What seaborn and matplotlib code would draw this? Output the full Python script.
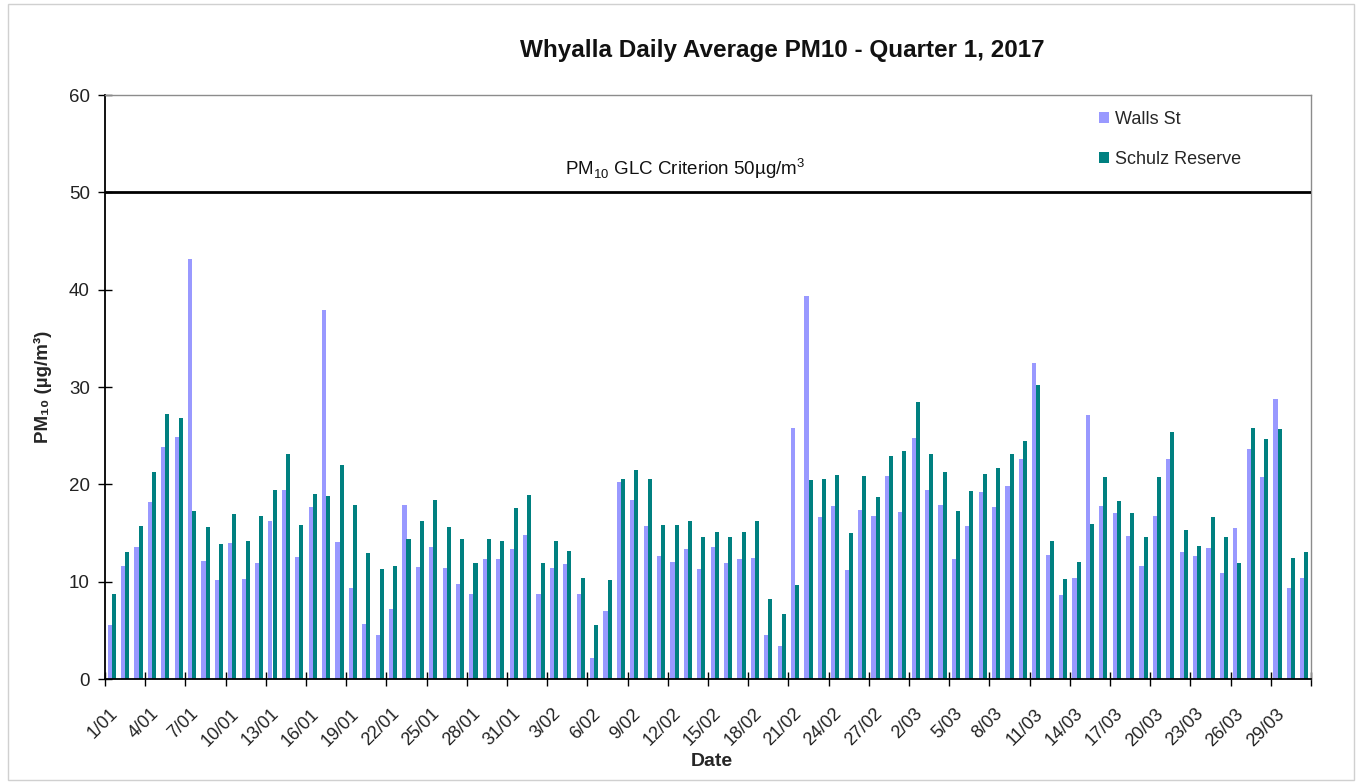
import numpy as np
import pandas as pd
import matplotlib
matplotlib.use("Agg")
import matplotlib.pyplot as plt
import matplotlib.transforms as mtransforms
from matplotlib.patches import Patch, Rectangle
import seaborn as sns

# Daily average PM10 (µg/m³), 1 January – 31 March 2017
walls_st = [
    5.5, 11.6, 13.6, 18.2, 23.8, 24.9, 43.1, 12.1, 10.2, 14.0,
    10.3, 11.9, 16.2, 19.4, 12.5, 17.7, 37.9, 14.1, 9.3, 5.7,
    4.5, 7.2, 17.9, 11.5, 13.6, 11.4, 9.8, 8.7, 12.3, 12.3,
    13.4, 14.8, 8.7, 11.4, 11.8, 8.7, 2.2, 7.0, 20.2, 18.4,
    15.7, 12.6, 12.0, 13.4, 11.3, 13.6, 11.9, 12.3, 12.4, 4.5,
    3.4, 25.8, 39.4, 16.6, 17.8, 11.2, 17.4, 16.7, 20.9, 17.2,
    24.8, 19.4, 17.9, 12.3, 15.7, 19.2, 17.7, 19.8, 22.6, 32.5,
    12.7, 8.6, 10.4, 27.1, 17.8, 17.1, 14.7, 11.6, 16.7, 22.6,
    13.0, 12.6, 13.5, 10.9, 15.5, 23.6, 20.8, 28.8, 9.3, 10.4,
]
schulz_reserve = [
    8.7, 13.0, 15.7, 21.3, 27.2, 26.8, 17.3, 15.6, 13.9, 17.0,
    14.2, 16.7, 19.4, 23.1, 15.8, 19.0, 18.8, 22.0, 17.9, 12.9,
    11.3, 11.6, 14.4, 16.2, 18.4, 15.6, 14.4, 11.9, 14.4, 14.2,
    17.6, 18.9, 11.9, 14.2, 13.1, 10.4, 5.5, 10.2, 20.5, 21.5,
    20.5, 15.8, 15.8, 16.2, 14.6, 15.1, 14.6, 15.1, 16.2, 8.2,
    6.7, 9.7, 20.4, 20.5, 21.0, 15.0, 20.9, 18.7, 22.9, 23.4,
    28.5, 23.1, 21.3, 17.3, 19.3, 21.1, 21.7, 23.1, 24.5, 30.2,
    14.2, 10.3, 12.0, 15.9, 20.8, 18.3, 17.1, 14.6, 20.8, 25.4,
    15.3, 13.7, 16.6, 14.6, 11.9, 25.8, 24.7, 25.7, 12.4, 13.0,
]
sites = ["Walls St", "Schulz Reserve"]
site_colors = ["#9999FF", "#008080"]
criterion = 50

dates = pd.date_range("2017-01-01", "2017-03-31", freq="D")
date_labels = [f"{d.day}/{d.month:02d}" for d in dates]
n_days = len(date_labels)

df = pd.DataFrame({
    "Date": date_labels * 2,
    "PM10": walls_st + schulz_reserve,
    "Site": [sites[0]] * n_days + [sites[1]] * n_days,
})

sns.set_theme(style="white")
plt.rcParams["font.family"] = ["Liberation Sans", "DejaVu Sans"]
plt.rcParams["mathtext.fontset"] = "custom"
plt.rcParams["mathtext.rm"] = "Liberation Sans"

W, H = 1360, 784
fig = plt.figure(figsize=(W / 100, H / 100), dpi=100)
fig.patch.set_facecolor("white")

# chart-area border
fig.add_artist(Rectangle((8 / W, 4 / H), (1354 - 8) / W, (780 - 4) / H,
                         transform=fig.transFigure, fill=False,
                         edgecolor="#d0d0d0", linewidth=1))

left, right, top, bottom = 105, 1311, 95, 679
ax = fig.add_axes([left / W, 1 - bottom / H, (right - left) / W, (bottom - top) / H])

sns.barplot(data=df, x="Date", y="PM10", hue="Site", order=date_labels,
            hue_order=sites, palette=site_colors, width=0.6, gap=0,
            dodge=True, saturation=1, errorbar=None, legend=False,
            linewidth=0, ax=ax)

ax.set_xlim(-0.5, n_days - 0.5)
ax.set_ylim(0, 60)

# criterion line and its caption
ax.axhline(criterion, color="black", linewidth=2, zorder=3)
caption_tf = mtransforms.blended_transform_factory(ax.transAxes, ax.transData)
ax.text(0.481, criterion + 2.4, r"PM$_{10}$ GLC Criterion 50µg/m$^{3}$",
        transform=caption_tf, fontsize=13.5, ha="center", va="center",
        color="#111111")

# axes frame
for s in ["left", "bottom"]:
    ax.spines[s].set_color("black")
    ax.spines[s].set_linewidth(1.3)
for s in ["top", "right"]:
    ax.spines[s].set_color("#8c8c8c")
    ax.spines[s].set_linewidth(1)

# y axis
ax.set_yticks(range(0, 61, 10))
ax.tick_params(axis="y", direction="inout", length=10, width=1, color="black",
               labelsize=13.5, labelcolor="#222222", pad=6, left=True)

# x axis: labels every third day, tick marks on group boundaries
ax.set_xticks(range(0, n_days, 3))
ax.set_xticklabels(date_labels[::3], rotation=45, ha="right",
                   rotation_mode="anchor", fontsize=13, color="#222222")
ax.set_xticks(np.arange(-0.5, n_days, 3), minor=True)
ax.tick_params(axis="x", which="major", length=0, pad=19, bottom=True)
ax.tick_params(axis="x", which="minor", direction="inout", length=10,
               width=1, color="black", bottom=True)
shift = mtransforms.ScaledTranslation(-2 / 100, 0, fig.dpi_scale_trans)
for lbl in ax.get_xticklabels():
    lbl.set_transform(lbl.get_transform() + shift)

ax.set_xlabel("Date", fontsize=14, fontweight="bold")
ax.set_ylabel("PM₁₀ (µg/m³)", fontsize=13.5, fontweight="bold", labelpad=12)
ax.xaxis.set_label_coords(0.503, -0.127)

# legend
handles = [Patch(facecolor=c, edgecolor="none", label=s) for s, c in zip(sites, site_colors)]
ax.legend(handles=handles, loc="upper left", bbox_to_anchor=(0.818, 0.985),
          frameon=False, fontsize=13, handlelength=0.55, handleheight=0.55,
          handletextpad=0.35, labelspacing=1.25, borderaxespad=0)

fig.text(782 / W, 1 - 50 / H, "Whyalla Daily Average PM10 - Quarter 1, 2017",
         fontsize=17.5, fontweight="bold", ha="center", va="center", color="#111111")

fig.savefig("out.png", dpi=100, facecolor="white")
